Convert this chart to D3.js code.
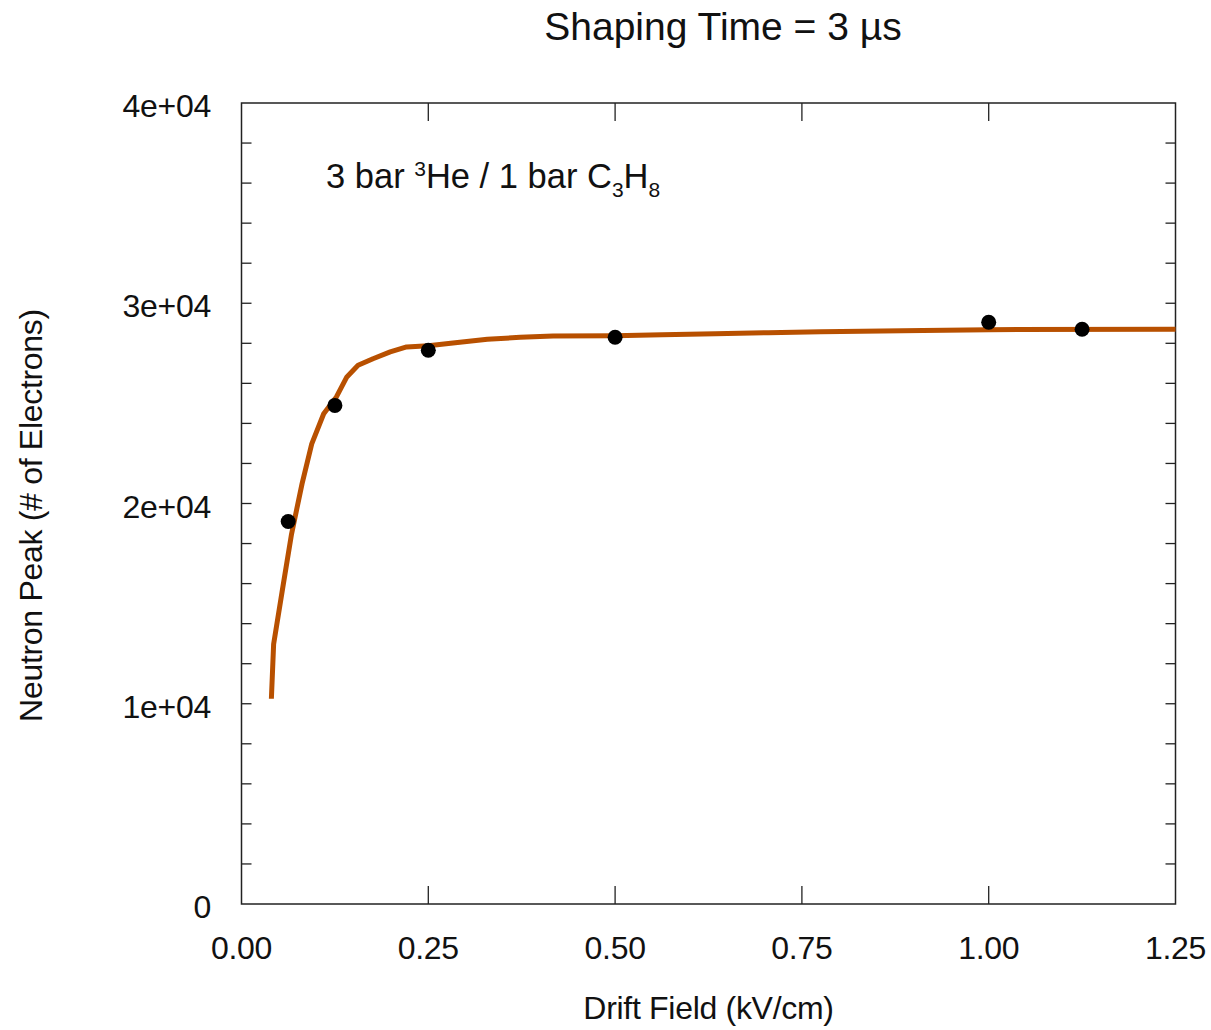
<!DOCTYPE html>
<html>
<head>
<meta charset="utf-8">
<script src="https://cdn.jsdelivr.net/npm/d3@7"></script>
<style>
  html, body { margin: 0; padding: 0; background: #fff; }
  svg { display: block; font-family: "Liberation Sans", Arial, sans-serif; }
</style>
</head>
<body>
<svg id="chart" width="1211" height="1030"></svg>
<script>
// Measured neutron peak vs drift field (3 µs shaping)
const fieldKV = [0.0625, 0.125, 0.25, 0.5, 1.0, 1.125];
const peakElectrons = [19100, 24900, 27650, 28300, 29050, 28700];

// Fitted curve
const fitField = [0.040, 0.043, 0.056, 0.067, 0.081, 0.094, 0.110, 0.127, 0.141, 0.156, 0.176, 0.199, 0.221, 0.250, 0.283, 0.329, 0.373, 0.417, 0.500, 0.563, 0.634, 0.705, 0.775, 0.912, 1.000, 1.250];
const fitPeak = [10250, 12980, 15980, 18480, 20980, 22980, 24480, 25320, 26320, 26900, 27230, 27570, 27820, 27880, 28015, 28200, 28300, 28360, 28380, 28430, 28480, 28530, 28580, 28640, 28680, 28700];

// Axis ticks and labels
const xTickValues = [0, 0.25, 0.5, 0.75, 1.0, 1.25];
const xTickLabels = ["0.00", "0.25", "0.50", "0.75", "1.00", "1.25"];
const yTickValues = [0, 10000, 20000, 30000, 40000];
const yTickLabels = ["0", "1e+04", "2e+04", "3e+04", "4e+04"];
const yMinorTicks = d3.range(2000, 40000, 2000);

const svg = d3.select("#chart");
const plotLeft = 241.5, plotRight = 1175.5, plotTop = 103, plotBottom = 904;

const x = d3.scaleLinear().domain([0, 1.25]).range([plotLeft, plotRight]);
const y = d3.scaleLinear().domain([0, 40000]).range([plotBottom, plotTop]);

const ink = "#222";
const labelSize = 32;

// Frame
svg.append("rect")
  .attr("x", plotLeft).attr("y", plotTop)
  .attr("width", plotRight - plotLeft).attr("height", plotBottom - plotTop)
  .attr("fill", "none").attr("stroke", ink).attr("stroke-width", 1.5);

// Inward ticks on all four sides
const g = svg.append("g").attr("stroke", ink).attr("stroke-width", 1.3);
const innerX = xTickValues.filter(v => v > 0 && v < 1.25);
g.selectAll(".xb").data(innerX).join("line")
  .attr("x1", d => x(d)).attr("x2", d => x(d))
  .attr("y1", plotBottom).attr("y2", plotBottom - 18);
g.selectAll(".xt").data(innerX).join("line")
  .attr("x1", d => x(d)).attr("x2", d => x(d))
  .attr("y1", plotTop).attr("y2", plotTop + 18);
g.selectAll(".yl").data(yMinorTicks).join("line")
  .attr("x1", plotLeft).attr("x2", plotLeft + 10)
  .attr("y1", d => y(d)).attr("y2", d => y(d));
g.selectAll(".yr").data(yMinorTicks).join("line")
  .attr("x1", plotRight).attr("x2", plotRight - 10)
  .attr("y1", d => y(d)).attr("y2", d => y(d));

// Tick labels
svg.append("g").selectAll("text").data(xTickValues).join("text")
  .attr("x", d => x(d)).attr("y", 959)
  .attr("text-anchor", "middle")
  .attr("font-size", labelSize).attr("letter-spacing", -0.3).attr("fill", "#111")
  .text((d, i) => xTickLabels[i]);

svg.append("g").selectAll("text").data(yTickValues).join("text")
  .attr("x", 211).attr("y", d => y(d) + 14)
  .attr("text-anchor", "end")
  .attr("font-size", labelSize).attr("letter-spacing", -0.3).attr("fill", "#111")
  .text((d, i) => yTickLabels[i]);

// Axis titles
svg.append("text")
  .attr("x", (plotLeft + plotRight) / 2).attr("y", 1019)
  .attr("text-anchor", "middle")
  .attr("font-size", labelSize).attr("letter-spacing", -0.3).attr("fill", "#111")
  .text("Drift Field (kV/cm)");

svg.append("text")
  .attr("transform", "translate(42," + ((plotTop + plotBottom) / 2 + 12) + ") rotate(-90)")
  .attr("text-anchor", "middle")
  .attr("font-size", labelSize).attr("letter-spacing", -0.3).attr("fill", "#111")
  .text("Neutron Peak (# of Electrons)");

// Chart title
svg.append("text")
  .attr("x", 723).attr("y", 40)
  .attr("text-anchor", "middle")
  .attr("font-size", 39).attr("fill", "#111")
  .text("Shaping Time = 3 µs");

// Gas mixture annotation
const ann = svg.append("text")
  .attr("x", 326).attr("y", 188)
  .attr("font-size", 34.5).attr("fill", "#111");
ann.append("tspan").text("3 bar ");
ann.append("tspan").attr("font-size", 21).attr("dy", -12).text("3");
ann.append("tspan").attr("dy", 12).text("He / 1 bar C");
ann.append("tspan").attr("font-size", 21).attr("dy", 9).text("3");
ann.append("tspan").attr("dy", -9).text("H");
ann.append("tspan").attr("font-size", 21).attr("dy", 9).text("8");

// Fit curve
const line = d3.line().x((d, i) => x(fitField[i])).y(d => y(d));
svg.append("path")
  .attr("d", line(fitPeak))
  .attr("fill", "none")
  .attr("stroke", "#B85000")
  .attr("stroke-width", 5)
  .attr("stroke-linejoin", "round");

// Data points
svg.append("g").selectAll("circle").data(peakElectrons).join("circle")
  .attr("cx", (d, i) => x(fieldKV[i]))
  .attr("cy", d => y(d))
  .attr("r", 7.5)
  .attr("fill", "#000");
</script>
</body>
</html>
